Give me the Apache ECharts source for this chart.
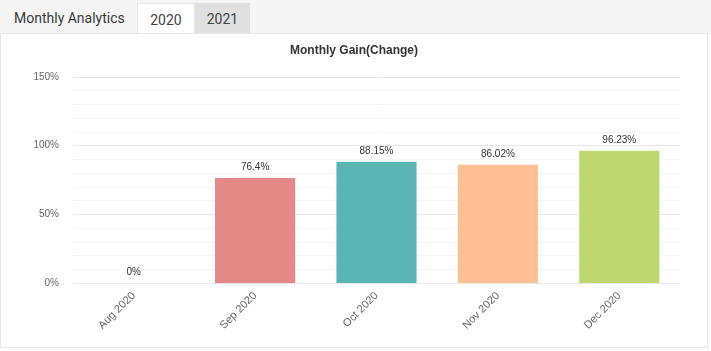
<!DOCTYPE html>
<html>
<head>
<meta charset="utf-8">
<script src="https://cdn.jsdelivr.net/npm/echarts@6/dist/echarts.min.js"></script>
<style>
  body { margin: 0; background: #fff; font-family: Roboto, Arial, sans-serif; }
  .header { position: absolute; left: 0; top: 0; width: 711px; height: 34px; background: #f5f5f5; }
  .header .title { position: absolute; left: 14px; top: 0; height: 34px; line-height: 36px; font-size: 14px; color: #3a3a3a; }
  .tab { position: absolute; top: 3px; height: 31px; line-height: 33px; font-size: 14px; color: #444; text-align: center; }
  .tab.active { left: 137px; width: 56px; background: #fff; border: 1px solid #e6e6e6; border-bottom: none; }
  .tab.other { left: 195px; width: 55px; background: #e0e0e0; }
  .panel { position: absolute; left: 0; top: 33px; width: 706px; height: 313px; border: 1px solid #e6e6e6; background: #fff; }
  #chart { width: 706px; height: 313px; }
</style>
</head>
<body>
<div class="header">
  <div class="title">Monthly Analytics</div>
  <div class="tab active">2020</div>
  <div class="tab other">2021</div>
</div>
<div class="panel"><div id="chart"></div></div>
<script>
const months = ['Aug 2020', 'Sep 2020', 'Oct 2020', 'Nov 2020', 'Dec 2020']
const gains = [0, 76.4, 88.15, 86.02, 96.23]
const barColors = ['#8fa8d8', '#e38986', '#5bb5b4', '#ffbf94', '#bfd76f']

const chart = echarts.init(document.getElementById('chart'))

const option = {
  animation: false,
  title: {
    text: 'Monthly Gain(Change)',
    left: 'center',
    top: 6,
    textStyle: { fontSize: 12, fontWeight: 'bold', color: '#333', fontFamily: 'Arial' }
  },
  grid: { left: 72, right: 27, top: 43, bottom: 64 },
  xAxis: {
    type: 'category',
    data: months,
    axisLine: { show: false },
    axisTick: { show: false },
    axisLabel: { rotate: 45, color: '#666', fontSize: 11, fontFamily: 'Arial', margin: 11 }
  },
  yAxis: {
    type: 'value',
    min: 0,
    max: 150,
    interval: 50,
    axisLabel: { formatter: '{value}%', color: '#666', fontSize: 10, fontFamily: 'Arial', margin: 14 },
    splitLine: { lineStyle: { color: '#e8e8e8' } },
    minorTick: { show: false, splitNumber: 5 },
    minorSplitLine: { show: true, lineStyle: { color: '#f4f4f4' } }
  },
  series: [{
    type: 'bar',
    barWidth: '66%',
    data: gains.map((v, i) => ({ value: v, itemStyle: { color: barColors[i] } })),
    label: {
      show: true,
      position: 'top',
      distance: 6,
      formatter: p => p.value + '%',
      color: '#333',
      fontSize: 10,
      fontFamily: 'Arial'
    }
  }]
}

chart.setOption(option)
</script>
</body>
</html>
